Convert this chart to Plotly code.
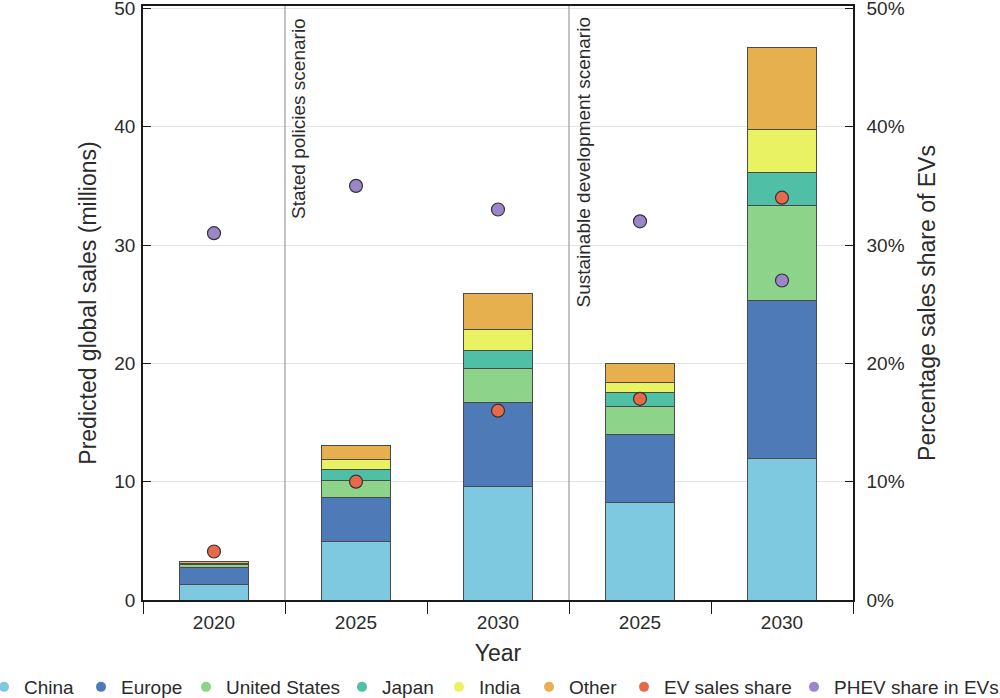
import plotly.graph_objects as go

# ---- data ----
categories = ["2020", "2025", "2030", "2025", "2030"]
china = [1.3, 4.93, 9.6, 8.2, 12.0]
europe = [1.47, 3.76, 7.1, 5.75, 13.3]
united_states = [0.2, 1.41, 2.9, 2.4, 8.0]
japan = [0.1, 0.96, 1.5, 1.2, 2.8]
india = [0.05, 0.84, 1.8, 0.85, 3.7]
other = [0.12, 1.15, 3.0, 1.6, 6.9]
ev_sales_share = [0.041, 0.10, 0.16, 0.17, 0.34]
phev_share = [0.31, 0.35, 0.33, 0.32, 0.27]
scenario_names = ["Stated policies scenario", "Sustainable development scenario"]
scenario_start = [1, 3]

series = [
    ("China", china, "#7ec8e0"),
    ("Europe", europe, "#4e7bb8"),
    ("United States", united_states, "#8ed38a"),
    ("Japan", japan, "#4fbfa6"),
    ("India", india, "#e8f262"),
    ("Other", other, "#e6b04e"),
]
ev_color = "#e8694a"
phev_color = "#9b86c9"

# legend entry left edges (px) – layout only
legend_left_px = [6, 103, 208, 364, 461, 551, 646, 816]

FONT = "Liberation Sans, Arial, sans-serif"
FS = 19
TXT = "#2b2b2b"
AX = "#1a1a1a"

W, H = 1000, 698
ML, MR, MT, MB = 143, 147, 6, 98
PW, PH = W - ML - MR, H - MT - MB

x = list(range(len(categories)))
fig = go.Figure()

for name, vals, col in series:
    fig.add_trace(go.Bar(
        x=x, y=vals, name=name, width=0.49, showlegend=False,
        marker=dict(color=col, line=dict(color="#4a4a4a", width=1)),
    ))

fig.add_trace(go.Scatter(
    x=x, y=ev_sales_share, yaxis="y2", mode="markers", showlegend=False,
    marker=dict(color=ev_color, size=13, line=dict(color="#333333", width=1.2)),
))
fig.add_trace(go.Scatter(
    x=x, y=phev_share, yaxis="y2", mode="markers", showlegend=False,
    marker=dict(color=phev_color, size=13, line=dict(color="#333333", width=1.2)),
))

# legend entries (circle symbols), one small legend per entry so they sit in one row
legend_items = [(n, c) for n, _, c in series] + [("EV sales share", ev_color), ("PHEV share in EVs", phev_color)]
leg_y = 1 - (668 - MT) / PH
legend_layout = {}
for i, (n, c) in enumerate(legend_items):
    key = "legend" if i == 0 else f"legend{i + 1}"
    fig.add_trace(go.Scatter(
        x=[None], y=[None], mode="markers", name=n, legend=key,
        marker=dict(color=c, size=10),
    ))
    legend_layout[key] = dict(
        orientation="h", x=(legend_left_px[i] - 22 - ML) / PW, xanchor="left",
        y=leg_y, yanchor="top", font=dict(size=FS, color=TXT), itemwidth=30,
        bgcolor="rgba(0,0,0,0)",
    )

# scenario separators and labels
for s, label in zip(scenario_start, scenario_names):
    fig.add_shape(type="line", xref="x", yref="paper", x0=s - 0.5, x1=s - 0.5, y0=0, y1=1,
                  line=dict(color="#9a9a9a", width=1.2))
    fig.add_annotation(x=s - 0.5, xref="x", y=1, yref="paper", text=label, textangle=-90,
                       showarrow=False, xanchor="left", yanchor="top", xshift=1, yshift=-10,
                       font=dict(size=FS, color=TXT, family=FONT))

fig.update_layout(
    width=W, height=H,
    margin=dict(l=ML, r=MR, t=MT, b=MB, autoexpand=False),
    paper_bgcolor="white", plot_bgcolor="white",
    barmode="stack",
    font=dict(family=FONT, size=FS, color=TXT),
    xaxis=dict(
        range=[-0.5, len(categories) - 0.5],
        tickvals=x, ticktext=categories, ticks="", showgrid=False,
        showline=True, mirror=True, linecolor=AX, linewidth=1.5,
        minor=dict(tickvals=[i - 0.5 for i in range(len(categories) + 1)], ticks="outside",
                   ticklen=12, tickcolor=AX, tickwidth=1.3, showgrid=False),
        ticklabelstandoff=4,
        title=dict(text="Year", standoff=13),
        zeroline=False, automargin=False,
    ),
    yaxis=dict(
        range=[0, 50.2], tickvals=[0, 10, 20, 30, 40, 50], showgrid=True, gridcolor="#e4e4e4", gridwidth=1,
        showline=True, linecolor=AX, linewidth=1.5, ticklabeloverflow="allow",
        ticks="inside", ticklen=8, tickcolor=AX, tickwidth=1.3, zeroline=False,
        ticklabelstandoff=2,
        title=dict(text="Predicted global sales (millions)", standoff=11), automargin=False,
    ),
    yaxis2=dict(
        range=[0, 0.502], tickvals=[0, 0.1, 0.2, 0.3, 0.4, 0.5], tickformat=".0%",
        overlaying="y", side="right", ticklabeloverflow="allow",
        showgrid=False, showline=True, linecolor=AX, linewidth=1.5,
        ticks="inside", ticklen=8, tickcolor=AX, tickwidth=1.3, zeroline=False,
        ticklabelstandoff=8,
        title=dict(text="Percentage sales share of EVs", standoff=15), automargin=False,
    ),
    **legend_layout,
)

fig.write_html("out.html", config={"displayModeBar": False},
               post_script="document.body.style.margin='0';")
